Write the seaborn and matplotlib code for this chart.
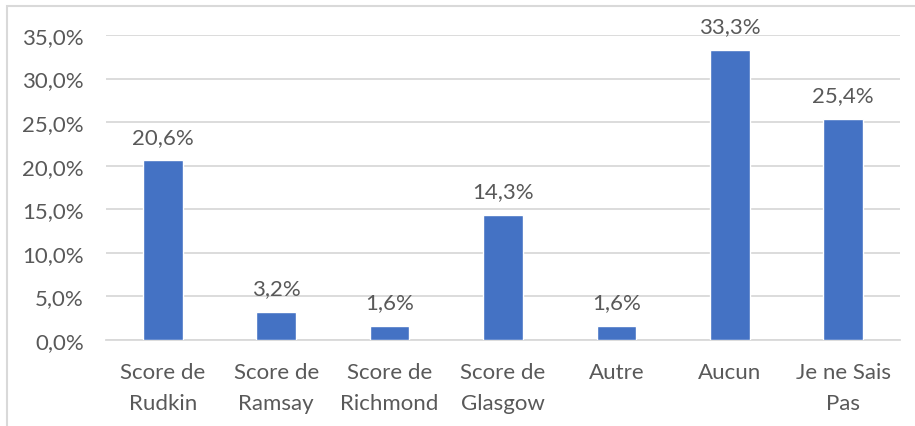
import matplotlib
matplotlib.use("Agg")
import matplotlib.pyplot as plt
import seaborn as sns
import pandas as pd
from matplotlib.patches import Rectangle

# data
categories = ["Score de\nRudkin", "Score de\nRamsay", "Score de\nRichmond",
              "Score de\nGlasgow", "Autre", "Aucun", "Je ne Sais\nPas"]
values = [20.6, 3.2, 1.6, 14.3, 1.6, 33.3, 25.4]
yticks = [0, 5, 10, 15, 20, 25, 30, 35]

df = pd.DataFrame({"cat": categories, "val": values})

sns.set_style("white")
plt.rcParams["font.family"] = ["Lato", "DejaVu Sans"]

text_col = "#595959"
grid_col = "#d9d9d9"
bar_col = "#4472C4"

fig = plt.figure(figsize=(9.15, 4.27), dpi=100)
ax = fig.add_axes([106 / 915, 1 - 341 / 427, 794 / 915, 305 / 427])

sns.barplot(data=df, x="cat", y="val", color=bar_col, width=0.35,
            saturation=1, ax=ax, zorder=3)

ax.set_ylim(0, 35)
ax.set_yticks(yticks)
ax.set_yticklabels([f"{t:.1f}%".replace(".", ",") for t in yticks],
                   fontsize=16, color=text_col)
ax.set_xlim(-0.5, len(categories) - 0.5)
ax.tick_params(axis="x", labelsize=16, labelcolor=text_col, length=0, pad=16)
ax.tick_params(axis="y", length=0, pad=16)
for lbl in ax.get_xticklabels():
    lbl.set_linespacing(1.65)
    lbl.set_verticalalignment("top")

ax.grid(axis="y", color=grid_col, linewidth=1.3, zorder=0)
for s in ["left", "right", "top"]:
    ax.spines[s].set_visible(False)
ax.spines["bottom"].set_color(grid_col)
ax.spines["bottom"].set_linewidth(1.3)
ax.set_xlabel("")
ax.set_ylabel("")

for i, v in enumerate(values):
    ax.annotate(f"{v:.1f}%".replace(".", ","), (i, v), xytext=(0, 10),
                textcoords="offset points", ha="center", va="bottom",
                fontsize=16, color=text_col, annotation_clip=False)

# light frame around the chart area
fig.patches.append(Rectangle((7 / 915, -0.05), 1.05, 1 - 7 / 427 + 0.05,
                             transform=fig.transFigure, fill=False,
                             edgecolor="#d9d9d9", linewidth=1.5))

fig.savefig("out.png", dpi=100, facecolor="white")
